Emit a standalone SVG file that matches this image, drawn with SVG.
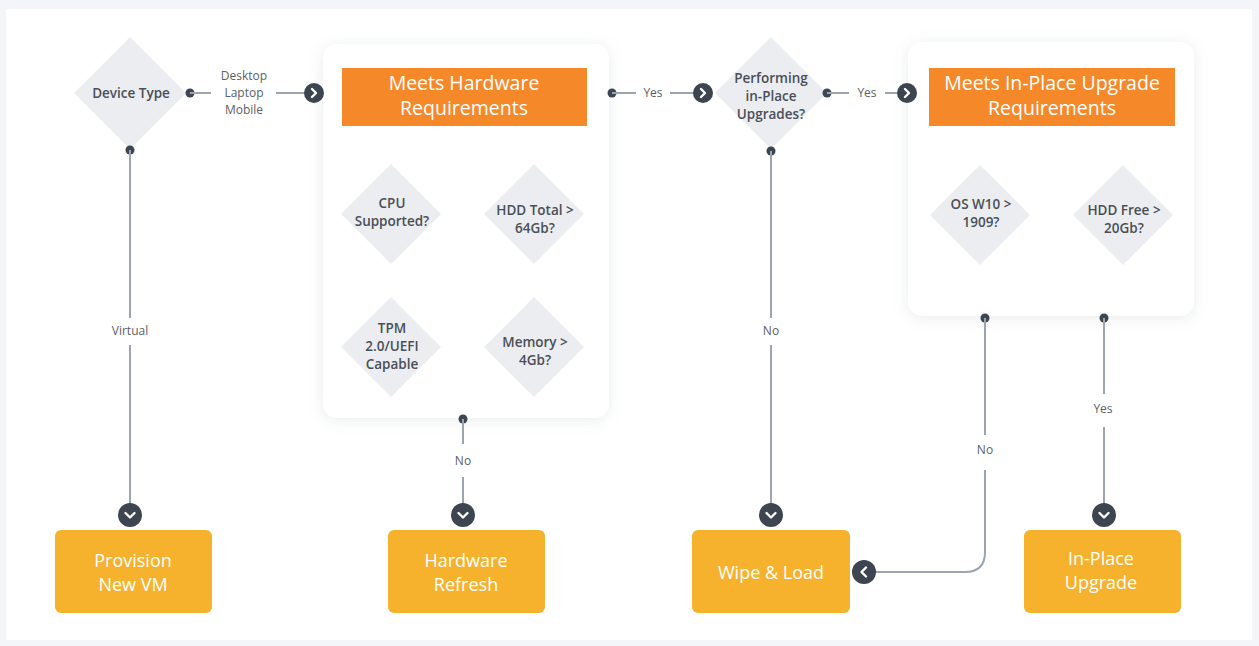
<svg xmlns="http://www.w3.org/2000/svg" width="1259" height="646" viewBox="0 0 1259 646">
<style>
.diam{fill:#ebedf0}
.dt{font-family:"Open Sans",Lato,sans-serif;font-size:13.5px;font-weight:600;fill:#4a4f57;text-anchor:middle}
.lbl{font-family:"Open Sans",Lato,sans-serif;font-size:12px;fill:#5a5f66;text-anchor:middle}
.hdr{fill:#f5892a}
.ht{font-family:"Open Sans",Lato,sans-serif;font-size:19.5px;fill:#fff;text-anchor:middle}
.res{fill:#f7b22d}
.rt{font-family:"Open Sans",Lato,sans-serif;font-size:18px;fill:#fff;text-anchor:middle}
.ln{stroke:#9aa5b1;stroke-width:2;fill:none}
.dot{fill:#3d4550}
.arr{fill:#3d4550}
.chev{stroke:#fff;stroke-width:2.4;fill:none;stroke-linecap:round;stroke-linejoin:round}
.card{fill:#fff}
</style>
<defs>
<filter id="sh" x="-20%" y="-20%" width="140%" height="140%">
<feDropShadow dx="0" dy="2" stdDeviation="7" flood-color="#8090a0" flood-opacity="0.18"/>
</filter>
</defs>
<rect x="0" y="0" width="1259" height="646" fill="#f3f5f9"/>
<rect x="6" y="9" width="1246" height="631" fill="#fff"/>

<g id="device-type">
<polygon class="diam" points="130,37 186,93 130,149 74,93"/>
<text class="dt" x="131" y="98">Device Type</text>
</g>

<g id="hardware-req">
<rect class="card" x="323" y="44" width="286" height="374" rx="14" filter="url(#sh)"/>
<rect class="hdr" x="342" y="68" width="245" height="58"/>
<text class="ht" x="464" y="90">Meets Hardware</text>
<text class="ht" x="464" y="115">Requirements</text>
</g>
<g id="cpu">
<polygon class="diam" points="391,164 441,214 391,264 341,214"/>
<text class="dt" x="392" y="208">CPU</text>
<text class="dt" x="392" y="226">Supported?</text>
</g>
<g id="hdd-total">
<polygon class="diam" points="534,164 584,214 534,264 484,214"/>
<text class="dt" x="535" y="215">HDD Total &gt;</text>
<text class="dt" x="535" y="233">64Gb?</text>
</g>
<g id="tpm">
<polygon class="diam" points="391,297 441,347 391,397 341,347"/>
<text class="dt" x="392" y="333">TPM</text>
<text class="dt" x="392" y="351">2.0/UEFI</text>
<text class="dt" x="392" y="369">Capable</text>
</g>
<g id="memory">
<polygon class="diam" points="534,297 584,347 534,397 484,347"/>
<text class="dt" x="535" y="347">Memory &gt;</text>
<text class="dt" x="535" y="365">4Gb?</text>
</g>

<g id="performing">
<polygon class="diam" points="771,37 827,93 771,149 715,93"/>
<text class="dt" x="771" y="83">Performing</text>
<text class="dt" x="771" y="101">in-Place</text>
<text class="dt" x="771" y="119">Upgrades?</text>
</g>

<g id="inplace-req">
<rect class="card" x="908" y="42" width="286" height="274" rx="14" filter="url(#sh)"/>
<rect class="hdr" x="929" y="68" width="246" height="58"/>
<text class="ht" x="1052" y="90">Meets In-Place Upgrade</text>
<text class="ht" x="1052" y="115">Requirements</text>
</g>
<g id="os-w10">
<polygon class="diam" points="980,165 1030,215 980,265 930,215"/>
<text class="dt" x="981" y="209">OS W10 &gt;</text>
<text class="dt" x="981" y="227">1909?</text>
</g>
<g id="hdd-free">
<polygon class="diam" points="1123,165 1173,215 1123,265 1073,215"/>
<text class="dt" x="1124" y="215">HDD Free &gt;</text>
<text class="dt" x="1124" y="233">20Gb?</text>
</g>

<g id="provision-vm">
<rect class="res" x="55" y="530" width="157" height="83" rx="6"/>
<text class="rt" x="133" y="567">Provision</text>
<text class="rt" x="133" y="591">New VM</text>
</g>
<g id="hardware-refresh">
<rect class="res" x="388" y="530" width="157" height="83" rx="6"/>
<text class="rt" x="466" y="567">Hardware</text>
<text class="rt" x="466" y="591">Refresh</text>
</g>
<g id="wipe-load">
<rect class="res" x="692" y="530" width="158" height="83" rx="6"/>
<text class="rt" x="771" y="579">Wipe &amp; Load</text>
</g>
<g id="inplace-upgrade">
<rect class="res" x="1024" y="530" width="157" height="83" rx="6"/>
<text class="rt" x="1101" y="565">In-Place</text>
<text class="rt" x="1101" y="589">Upgrade</text>
</g>

<g id="connectors">
<circle class="dot" cx="190" cy="93" r="4.5"/>
<line class="ln" x1="190" y1="93" x2="211" y2="93"/>
<text class="lbl" x="244" y="80">Desktop</text>
<text class="lbl" x="244" y="97">Laptop</text>
<text class="lbl" x="244" y="114">Mobile</text>
<line class="ln" x1="276" y1="93" x2="306" y2="93"/>
<circle class="arr" cx="314" cy="93" r="10"/>
<polyline class="chev" points="312,89 316,93 312,97"/>

<circle class="dot" cx="130" cy="150" r="4.5"/>
<line class="ln" x1="130" y1="150" x2="130" y2="318"/>
<text class="lbl" x="130" y="335">Virtual</text>
<line class="ln" x1="130" y1="345" x2="130" y2="507"/>
<circle class="arr" cx="130" cy="515" r="12"/>
<polyline class="chev" points="125.5,513 130,517.5 134.5,513"/>

<circle class="dot" cx="463" cy="419" r="4.5"/>
<line class="ln" x1="463" y1="419" x2="463" y2="444"/>
<text class="lbl" x="463" y="465">No</text>
<line class="ln" x1="463" y1="477" x2="463" y2="507"/>
<circle class="arr" cx="463" cy="515" r="12"/>
<polyline class="chev" points="458.5,513 463,517.5 467.5,513"/>

<circle class="dot" cx="612" cy="93" r="4.5"/>
<line class="ln" x1="612" y1="93" x2="636" y2="93"/>
<text class="lbl" x="653" y="97">Yes</text>
<line class="ln" x1="670" y1="93" x2="695" y2="93"/>
<circle class="arr" cx="703" cy="93" r="10"/>
<polyline class="chev" points="701,89 705,93 701,97"/>

<circle class="dot" cx="827" cy="93" r="4.5"/>
<line class="ln" x1="827" y1="93" x2="849" y2="93"/>
<text class="lbl" x="867" y="97">Yes</text>
<line class="ln" x1="885" y1="93" x2="899" y2="93"/>
<circle class="arr" cx="907" cy="93" r="10"/>
<polyline class="chev" points="905,89 909,93 905,97"/>

<circle class="dot" cx="771" cy="151" r="4.5"/>
<line class="ln" x1="771" y1="151" x2="771" y2="318"/>
<text class="lbl" x="771" y="335">No</text>
<line class="ln" x1="771" y1="345" x2="771" y2="507"/>
<circle class="arr" cx="771" cy="515" r="12"/>
<polyline class="chev" points="766.5,513 771,517.5 775.5,513"/>

<circle class="dot" cx="985" cy="318" r="4.5"/>
<line class="ln" x1="985" y1="318" x2="985" y2="435"/>
<text class="lbl" x="985" y="454">No</text>
<path class="ln" d="M985,470 L985,552 Q985,572 965,572 L872,572"/>
<circle class="arr" cx="864" cy="572" r="12"/>
<polyline class="chev" points="866,567.5 861.5,572 866,576.5"/>

<circle class="dot" cx="1104" cy="318" r="4.5"/>
<line class="ln" x1="1104" y1="318" x2="1104" y2="394"/>
<text class="lbl" x="1103" y="413">Yes</text>
<line class="ln" x1="1104" y1="427" x2="1104" y2="507"/>
<circle class="arr" cx="1104" cy="515" r="12"/>
<polyline class="chev" points="1099.5,513 1104,517.5 1108.5,513"/>
</g>
</svg>
